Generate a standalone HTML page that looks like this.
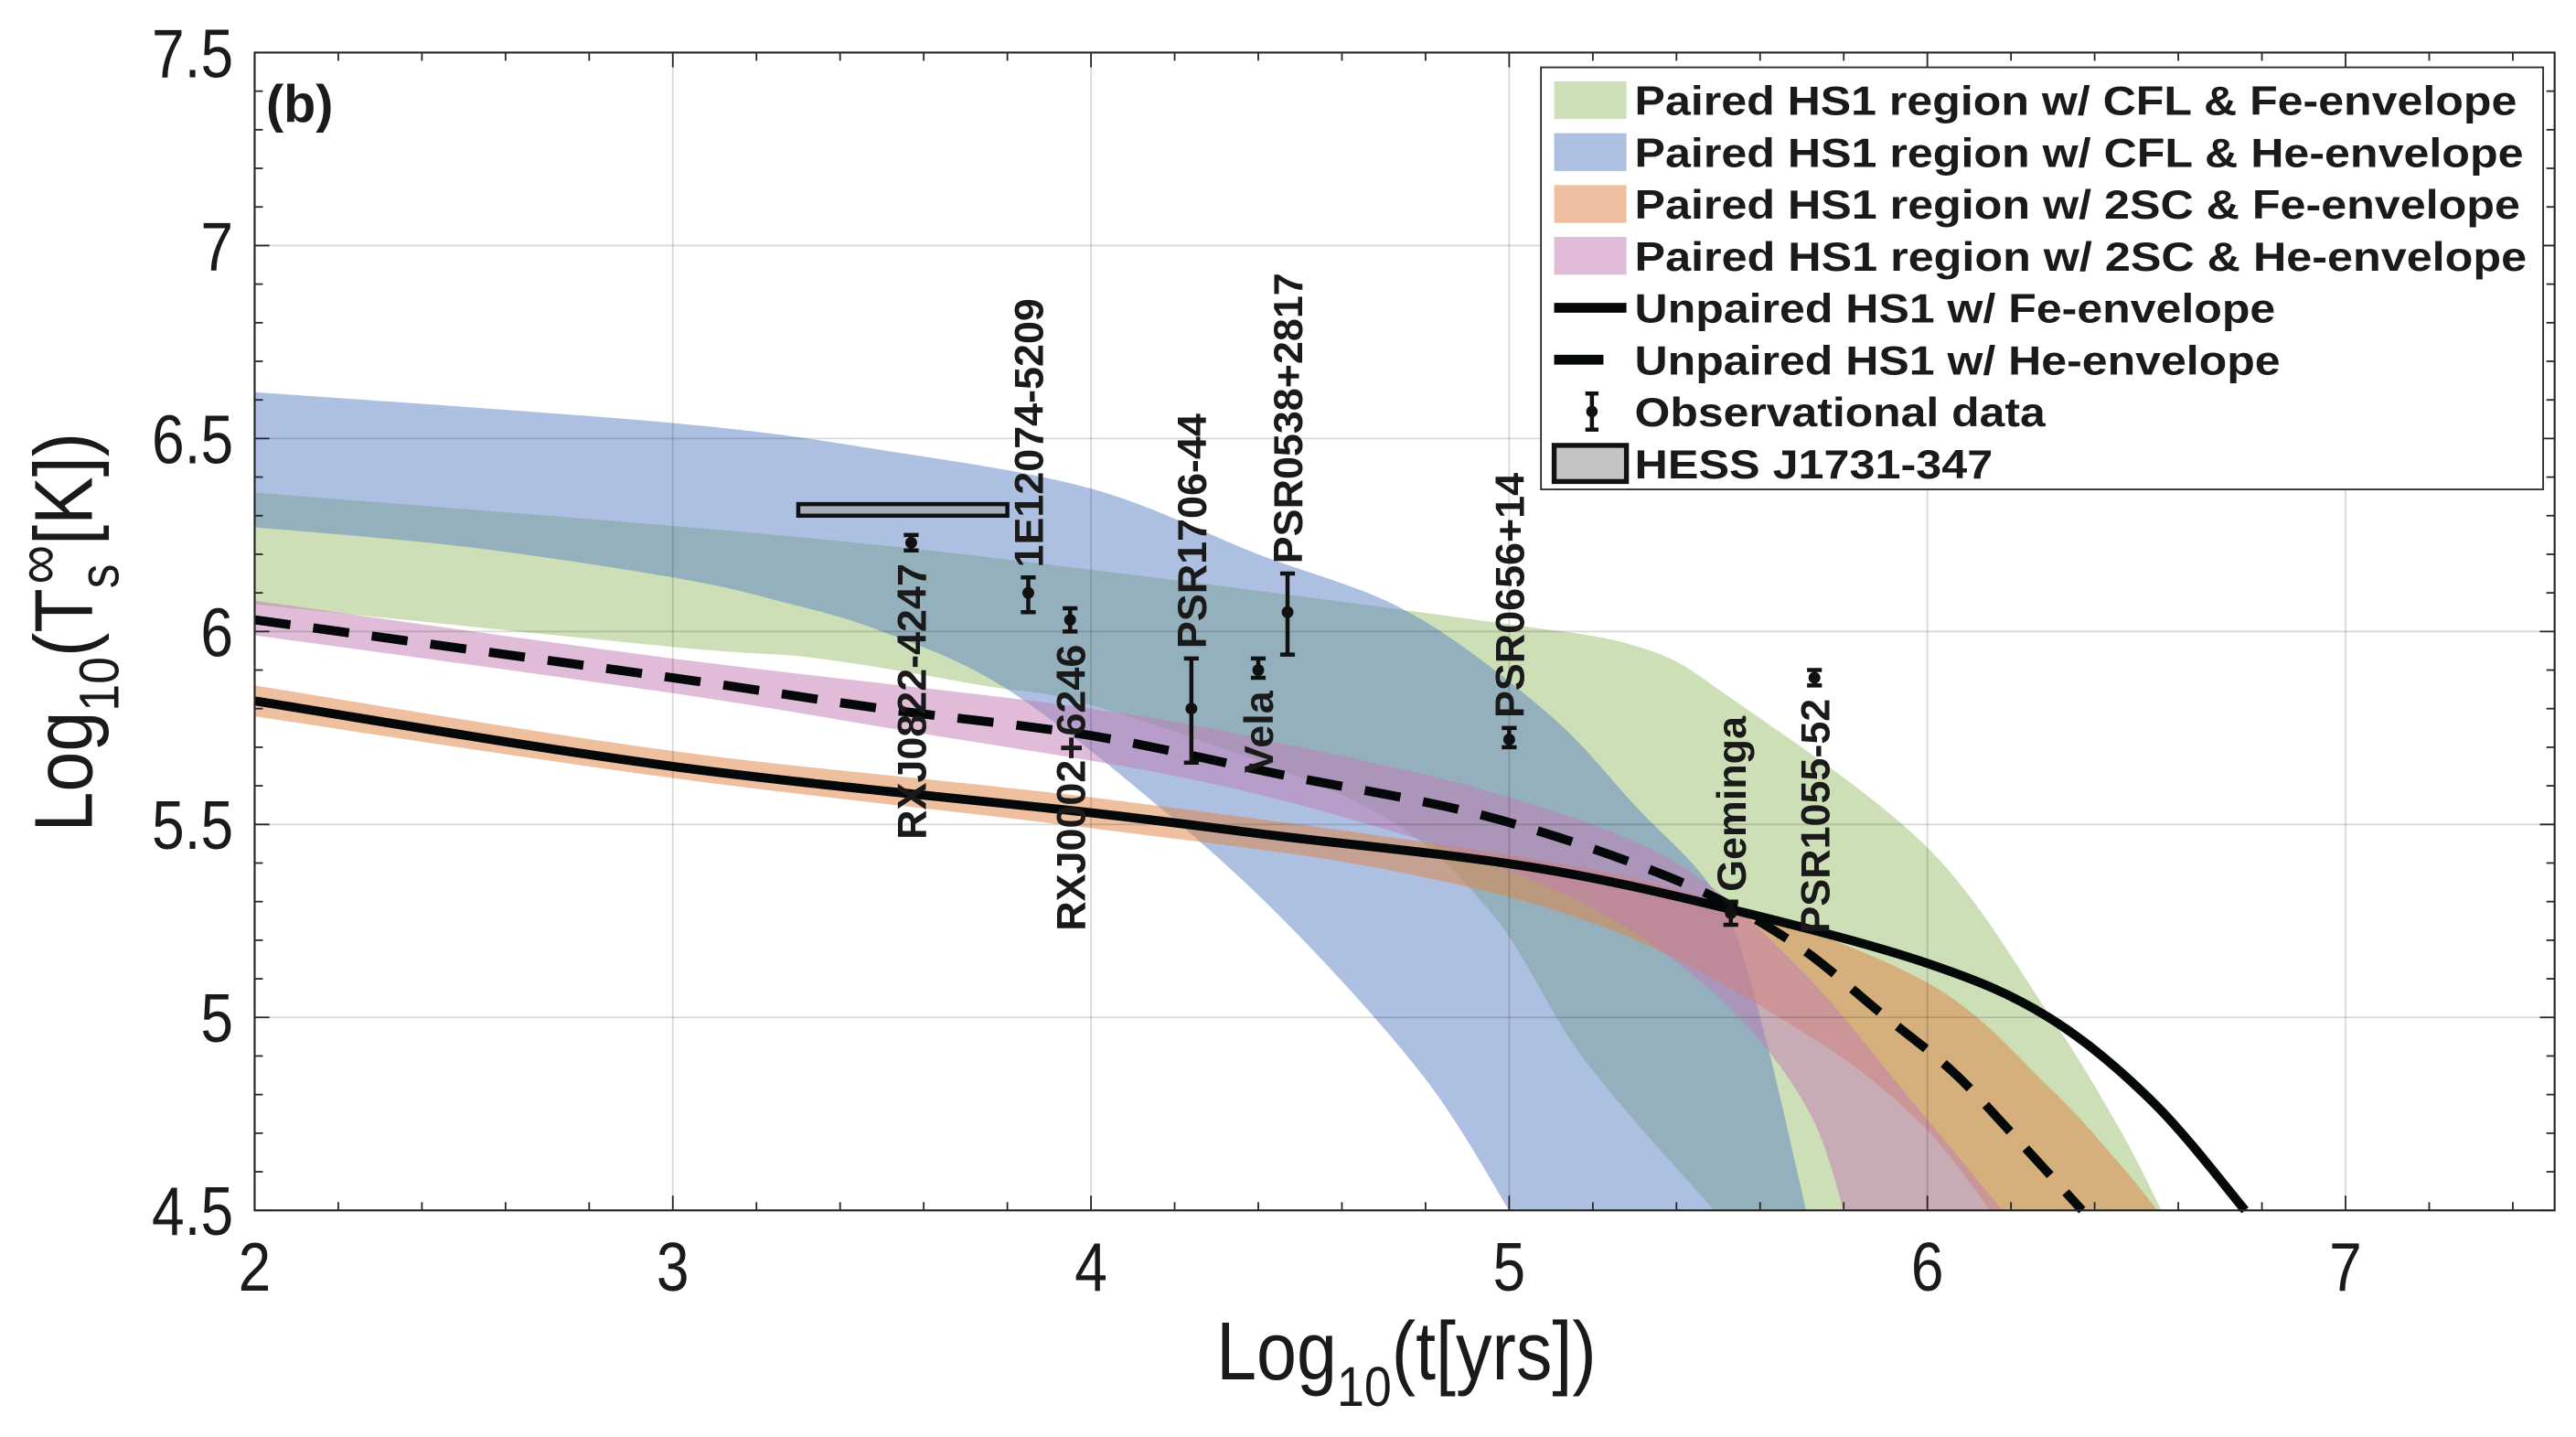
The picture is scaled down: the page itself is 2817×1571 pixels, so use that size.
<!DOCTYPE html>
<html><head><meta charset="utf-8"><style>
html,body{margin:0;padding:0;background:#fff;}
svg{display:block;}
text{font-family:"Liberation Sans",sans-serif;fill:#1a1a1a;}
</style></head><body>
<svg id="chart" xmlns="http://www.w3.org/2000/svg" width="2817" height="1571" viewBox="0 0 1568 875" preserveAspectRatio="none">
<g id="bands"></g>
<g id="grid"></g>
<g id="lines"></g>
<g id="obs"></g>
<g id="axes"></g>
<g id="legend"></g>
<text x="162" y="74" font-size="32" font-weight="bold">(b)</text>
<text x="0" y="0" font-size="50" text-anchor="middle" transform="translate(856 840) scale(0.88 1)">Log<tspan font-size="34" dy="16">10</tspan><tspan dy="-16">(t[yrs])</tspan></text>
<text x="0" y="0" font-size="50" text-anchor="middle" transform="translate(56 385) rotate(-90) scale(0.88 1)">Log<tspan font-size="34" dy="16">10</tspan><tspan dy="-16">(T</tspan><tspan font-size="34" dy="16">s</tspan><tspan font-size="38" dy="-36" dx="-14">∞</tspan><tspan dy="20">[K])</tspan></text>
</svg>
<script>
// ---- data ----
const xTicks = [2,3,4,5,6,7];
const yTicks = [4.5,5,5.5,6,6.5,7,7.5];
const yTickLabels = ["4.5","5","5.5","6","6.5","7","7.5"];
const greenUpX = [2,3.25,4,4.92,5.31,5.54,6.0,6.29,6.46,6.56];
const greenUpY = [6.36,6.25,6.16,6.03,5.96,5.82,5.44,5.01,4.71,4.5];
const greenLoX = [2,3,3.35,3.74,4.03,4.65,4.95,5.18,5.49];
const greenLoY = [6.07,5.96,5.93,5.86,5.8,5.55,5.28,4.89,4.5];
const blueUpX = [2,3,3.5,4,4.4,4.76,5.09,5.3,5.5,5.6,5.71];
const blueUpY = [6.62,6.54,6.47,6.37,6.2,6.05,5.79,5.55,5.31,5.0,4.5];
const blueLoX = [2,2.5,3,3.25,3.5,3.8,4.18,4.49,4.8,5.0];
const blueLoY = [6.27,6.22,6.14,6.08,6.0,5.85,5.53,5.22,4.84,4.5];
const orangeUpX = [2,3,4,5,5.5,6.0,6.29,6.46,6.55];
const orangeUpY = [5.86,5.69,5.57,5.42,5.3,5.09,4.82,4.62,4.5];
const orangeLoX = [2,3,4,4.72,5.26,5.72,5.98,6.15];
const orangeLoY = [5.78,5.62,5.49,5.38,5.22,4.95,4.73,4.5];
const pinkUpX = [2,3,4,4.5,5,5.4,5.7,5.95,6.18];
const pinkUpY = [6.08,5.93,5.8,5.7,5.57,5.4,5.12,4.8,4.5];
const pinkLoX = [2,3,3.57,4.18,4.6,5,5.3,5.55,5.72,5.8];
const pinkLoY = [5.99,5.84,5.74,5.63,5.52,5.38,5.22,5.0,4.75,4.5];
const solidX = [2,3,4,4.45,5.05,5.53,6.0,6.29,6.54,6.76];
const solidY = [5.82,5.65,5.53,5.47,5.39,5.28,5.14,5.0,4.78,4.5];
const dashX = [2,3,3.5,4,4.45,4.95,5.39,5.67,5.89,6.06,6.21,6.37];
const dashY = [6.03,5.88,5.8,5.73,5.63,5.52,5.36,5.2,5.01,4.86,4.69,4.5];
const obsNames = ["RXJ0822-4247","1E12074-5209","RXJ0002+6246","PSR1706-44","Vela","PSR0538+2817","PSR0656+14","Geminga","PSR1055-52"];
const obsX = [3.57,3.85,3.95,4.24,4.4,4.47,5.0,5.53,5.73];
const obsY = [6.23,6.1,6.03,5.8,5.9,6.05,5.72,5.27,5.88];
const obsLo = [6.21,6.05,6.0,5.66,5.88,5.94,5.7,5.24,5.86];
const obsHi = [6.25,6.14,6.06,5.93,5.93,6.15,5.75,5.3,5.9];
const labelAbove = [false,true,false,true,false,true,true,true,false];
const hessX = [3.3,3.8];
const hessY = [6.3,6.33];

// ---- axes functions ----
const L=155,R=1555,T=32,B=737;
const X=v=>L+(v-2)*(R-L)/5.5;
const Y=v=>B-(v-4.5)*(B-T)/3;
const NS="http://www.w3.org/2000/svg";
function mk(tag,attrs,parent){const e=document.createElementNS(NS,tag);for(const k in attrs)e.setAttribute(k,attrs[k]);parent.appendChild(e);return e;}
const gB=document.getElementById('bands'),gG=document.getElementById('grid'),gL=document.getElementById('lines'),gO=document.getElementById('obs'),gA=document.getElementById('axes'),gLeg=document.getElementById('legend');

function crPath(pts,start){
  let d=(start?'M':'L')+pts[0][0].toFixed(1)+','+pts[0][1].toFixed(1);
  for(let i=0;i<pts.length-1;i++){
    const p0=pts[Math.max(0,i-1)],p1=pts[i],p2=pts[i+1],p3=pts[Math.min(pts.length-1,i+2)];
    const c1=[p1[0]+(p2[0]-p0[0])/6,p1[1]+(p2[1]-p0[1])/6];
    const c2=[p2[0]-(p3[0]-p1[0])/6,p2[1]-(p3[1]-p1[1])/6];
    d+='C'+c1[0].toFixed(1)+','+c1[1].toFixed(1)+' '+c2[0].toFixed(1)+','+c2[1].toFixed(1)+' '+p2[0].toFixed(1)+','+p2[1].toFixed(1);
  }
  return d;
}
const toPts=(xs,ys)=>xs.map((x,i)=>[X(x),Y(ys[i])]);

function band(ux,uy,lx,ly,color,name){
  const up=toPts(ux,uy), lo=toPts(lx,ly).reverse();
  const d=crPath(up,true)+crPath(lo,false)+'Z';
  const p=mk('path',{d:d,fill:color,'fill-opacity':0.5},gB);
  
  
}
band(greenUpX,greenUpY,greenLoX,greenLoY,'rgb(155,191,109)','band-cfl-fe');
band(blueUpX,blueUpY,blueLoX,blueLoY,'rgb(91,129,195)','band-cfl-he');
band(orangeUpX,orangeUpY,orangeLoX,orangeLoY,'rgb(223,129,65)','band-2sc-fe');
band(pinkUpX,pinkUpY,pinkLoX,pinkLoY,'rgb(193,121,179)','band-2sc-he');

for(const t of [3,4,5,6,7]){const l=mk('line',{x1:X(t),x2:X(t),y1:T,y2:B,stroke:'#000','stroke-opacity':0.15,'stroke-width':1},gG);}
for(const t of [5,5.5,6,6.5,7]){const l=mk('line',{x1:L,x2:R,y1:Y(t),y2:Y(t),stroke:'#000','stroke-opacity':0.15,'stroke-width':1},gG);}

const sl=mk('path',{d:crPath(toPts(solidX,solidY),true),fill:'none',stroke:'#050808','stroke-width':5.5,'stroke-linejoin':'round'},gL);


const dl=mk('path',{d:crPath(toPts(dashX,dashY),true),fill:'none',stroke:'#050808','stroke-width':5.5,'stroke-dasharray':'22 14'},gL);



const hb=mk('rect',{x:X(hessX[0]),y:Y(hessY[1]),width:X(hessX[1])-X(hessX[0]),height:Y(hessY[0])-Y(hessY[1]),fill:'#a6adbc',stroke:'#111','stroke-width':2.5},gO);



obsNames.forEach((n,i)=>{
  const g=mk('g',{},gO);
  
  
  const cx=X(obsX[i]);
  mk('line',{x1:cx,x2:cx,y1:Y(obsHi[i]),y2:Y(obsLo[i]),stroke:'#111','stroke-width':2.5},g);
  mk('line',{x1:cx-4.5,x2:cx+4.5,y1:Y(obsHi[i]),y2:Y(obsHi[i]),stroke:'#111','stroke-width':2.5},g);
  mk('line',{x1:cx-4.5,x2:cx+4.5,y1:Y(obsLo[i]),y2:Y(obsLo[i]),stroke:'#111','stroke-width':2.5},g);
  mk('circle',{cx:cx,cy:Y(obsY[i]),r:3.6,fill:'#111'},g);
  let ty,anchor;
  if(labelAbove[i]){ty=Y(obsHi[i])-6;anchor='start';}else{ty=Y(obsLo[i])+8;anchor='end';}
  const t=mk('text',{x:0,y:0,'font-size':25,'font-weight':'bold','text-anchor':anchor,transform:`translate(${cx+9} ${ty}) rotate(-90)`},g);
  t.textContent=n;
});

mk('rect',{x:L,y:T,width:R-L,height:B-T,fill:'none',stroke:'#262626','stroke-width':1.2},gA);
for(let v=2;v<=7.5001;v+=0.2){const maj=Math.abs(v-Math.round(v))<1e-6;const len=maj?9:5;
  mk('line',{x1:X(v),x2:X(v),y1:B,y2:B-len,stroke:'#262626','stroke-width':1},gA);
  mk('line',{x1:X(v),x2:X(v),y1:T,y2:T+len,stroke:'#262626','stroke-width':1},gA);}
for(let v=4.5;v<=7.5001;v+=0.1){const maj=Math.abs(v*2-Math.round(v*2))<1e-6;const len=maj?9:5;
  mk('line',{x1:L,x2:L+len,y1:Y(v),y2:Y(v),stroke:'#262626','stroke-width':1},gA);
  mk('line',{x1:R,x2:R-len,y1:Y(v),y2:Y(v),stroke:'#262626','stroke-width':1},gA);}
xTicks.forEach(v=>{const t=mk('text',{x:0,y:0,'font-size':42,'text-anchor':'middle',transform:`translate(${X(v)} 786) scale(0.85 1)`},gA);
  
  
  t.textContent=v;});
yTicks.forEach((v,i)=>{const t=mk('text',{x:0,y:0,'font-size':42,'text-anchor':'end',transform:`translate(142 ${Y(v)+15}) scale(0.85 1)`},gA);
  
  
  t.textContent=yTickLabels[i];});

const legLabels=["Paired HS1 region w/ CFL & Fe-envelope","Paired HS1 region w/ CFL & He-envelope","Paired HS1 region w/ 2SC & Fe-envelope","Paired HS1 region w/ 2SC & He-envelope","Unpaired HS1 w/ Fe-envelope","Unpaired HS1 w/ He-envelope","Observational data","HESS J1731-347"];
const legWidths=[537,541,539,543,390,393,250,218];
const legSw=['#cddfb6','#adc0e1','#efc0a0','#e0bcd9'];
mk('rect',{x:938,y:41,width:610,height:257,fill:'#fff',stroke:'#262626','stroke-width':1},gLeg);
legLabels.forEach((s,i)=>{
  const cy=61+i*31.6;
  const g=mk('g',{},gLeg);
  
  
  if(i<4) mk('rect',{x:946,y:cy-11.5,width:44,height:23,fill:legSw[i]},g);
  else if(i===4) mk('line',{x1:946,x2:990,y1:cy,y2:cy,stroke:'#050808','stroke-width':6},g);
  else if(i===5) mk('line',{x1:946,x2:976,y1:cy,y2:cy,stroke:'#050808','stroke-width':6},g);
  else if(i===6){mk('line',{x1:969,x2:969,y1:cy-11,y2:cy+11,stroke:'#111','stroke-width':2.5},g);
    mk('line',{x1:965,x2:973,y1:cy-11,y2:cy-11,stroke:'#111','stroke-width':2.5},g);
    mk('line',{x1:965,x2:973,y1:cy+11,y2:cy+11,stroke:'#111','stroke-width':2.5},g);
    mk('circle',{cx:969,cy:cy,r:3.5,fill:'#111'},g);}
  else mk('rect',{x:946,y:cy-11,width:44,height:22,fill:'#c4c4c4',stroke:'#111','stroke-width':3},g);
  const t=mk('text',{x:995,y:cy+9,'font-size':25,'font-weight':'bold',textLength:legWidths[i],lengthAdjust:'spacingAndGlyphs'},g);
  t.textContent=s;
});
</script>
</body></html>
